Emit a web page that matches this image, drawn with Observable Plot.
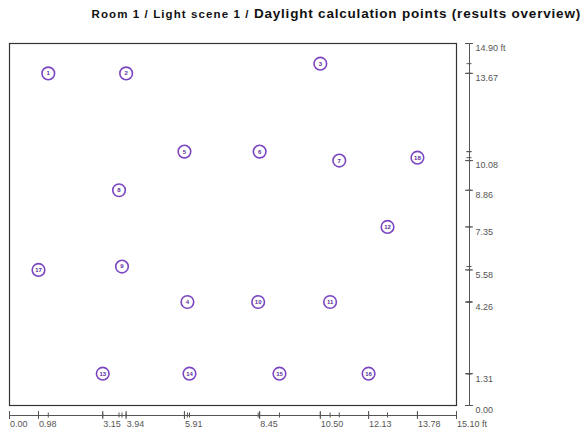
<!DOCTYPE html>
<html>
<head>
<meta charset="utf-8">
<script src="https://cdn.jsdelivr.net/npm/d3@7"></script>
<script src="https://cdn.jsdelivr.net/npm/@observablehq/plot@0.6"></script>
<style>
  html, body { margin: 0; padding: 0; background: #fff; }
  #wrap { position: relative; width: 586px; height: 436px; overflow: hidden; }
  #title { position: absolute; top: 4px; right: 5px; white-space: nowrap;
           font-family: "Liberation Sans", Arial, sans-serif; font-weight: bold; color: #111; }
  #title .a { font-size: 11.5px; letter-spacing: 1.1px; }
  #title .b { font-size: 13.5px; letter-spacing: 0.8px; }
  svg { position: absolute; left: 0; top: 0; }
</style>
</head>
<body>
<div id="wrap">
  <div id="title"><span class="a">Room 1 / Light scene 1 / </span><span class="b">Daylight calculation points (results overview)</span></div>
</div>
<script>
// Calculation points (ft)
const pointIds = [1, 2, 3, 4, 5, 6, 7, 8, 9, 10, 11, 12, 13, 14, 15, 16, 17, 18];
const pointX = [1.31, 3.94, 10.50, 6.01, 5.91, 8.45, 11.14, 3.70, 3.80, 8.40, 10.83, 12.77, 3.15, 6.08, 9.12, 12.13, 0.98, 13.78];
const pointY = [13.67, 13.67, 14.07, 4.26, 10.45, 10.45, 10.08, 8.86, 5.72, 4.26, 4.26, 7.35, 1.31, 1.31, 1.31, 1.31, 5.58, 10.20];

// Axis ticks (ft)
const xTicks = [0.00, 0.98, 3.15, 3.94, 5.91, 8.45, 10.50, 12.13, 13.78, 15.10];
const xTickLabels = ["0.00", "0.98", "3.15", "3.94", "5.91", "8.45", "10.50", "12.13", "13.78", "15.10 ft"];
const yTicks = [0.00, 1.31, 4.26, 5.58, 7.35, 8.86, 10.08, 13.67, 14.90];
const yTickLabels = ["0.00", "1.31", "4.26", "5.58", "7.35", "8.86", "10.08", "13.67", "14.90 ft"];

const xMax = 15.10, yMax = 14.90;
const points = pointIds.map((id, i) => ({id, x: pointX[i], y: pointY[i]}));
const xLab = xTicks.map((v, i) => ({v, label: xTickLabels[i]}));
const yLab = yTicks.map((v, i) => ({v, label: yTickLabels[i]}));

const axisColor = "#555";
const font = "Liberation Sans, Arial, sans-serif";

const chart = Plot.plot({
  width: 586,
  height: 436,
  marginLeft: 9,
  marginRight: 130,
  marginTop: 43,
  marginBottom: 31,
  style: {fontFamily: font, background: "transparent", overflow: "visible"},
  x: {domain: [0, xMax], axis: null},
  y: {domain: [0, yMax], axis: null},
  marks: [
    Plot.frame({stroke: "#333", strokeWidth: 1.2}),
    // bottom axis
    Plot.ruleY([0], {x1: 0, x2: xMax, dy: 10, stroke: axisColor}),
    Plot.ruleX(pointX, {x: d => d, y1: 0, y2: 0, insetTop: 7.5, insetBottom: -12.5, stroke: axisColor}),
    Plot.ruleX(xTicks, {x: d => d, y1: 0, y2: 0, insetTop: 6, insetBottom: -14, stroke: axisColor}),
    Plot.text(xLab, {x: "v", y: 0, text: "label", dy: 19, dx: 0.5, textAnchor: "start", fontSize: 9, fill: axisColor}),
    // right axis
    Plot.ruleX([xMax], {y1: 0, y2: yMax, dx: 13, stroke: axisColor}),
    Plot.ruleY(pointY, {y: d => d, x1: xMax, x2: xMax, insetLeft: 10.5, insetRight: -15.5, stroke: axisColor}),
    Plot.ruleY(yTicks, {y: d => d, x1: xMax, x2: xMax, insetLeft: 9, insetRight: -17, stroke: axisColor}),
    Plot.text(yLab, {x: xMax, y: "v", text: "label", dx: 19, dy: 5, textAnchor: "start", fontSize: 9, fill: axisColor}),
    // points
    Plot.dot(points, {x: "x", y: "y", r: 6.3, fill: "white", stroke: "#7b45c2", strokeWidth: 1.6}),
    Plot.text(points, {x: "x", y: "y", text: "id", fontSize: 6, fontWeight: "bold", fill: "#5b2d9a"})
  ]
});
document.getElementById("wrap").prepend(chart);
</script>
</body>
</html>
